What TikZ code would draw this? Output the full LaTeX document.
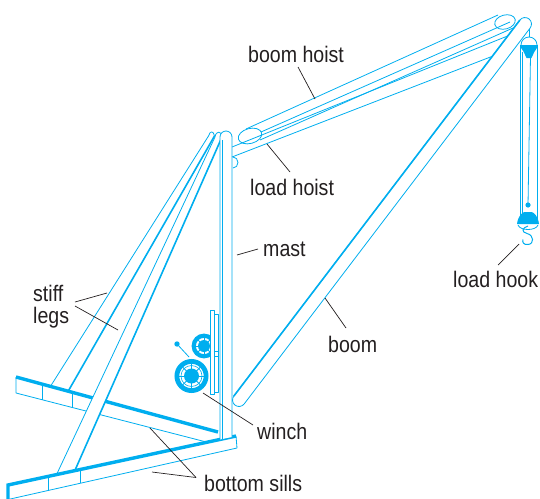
\documentclass[tikz,border=0pt]{standalone}
\usepackage{fontspec}
\setmainfont[FakeStretch=0.87]{Liberation Sans}
\definecolor{crane}{RGB}{0,174,239}
\definecolor{ink}{RGB}{35,31,32}

\begin{document}
\begin{tikzpicture}[x=1pt,y=-1pt,
  part/.style={draw=crane,line width=0.8pt,line join=round},
  heavy/.style={draw=crane,line width=1.6pt},
  silledge/.style={draw=crane,line width=3.4pt},
  leader/.style={draw=ink,line width=0.7pt},
  lbl/.style={text=ink,font=\fontsize{22.5}{22.5}\selectfont,inner sep=0pt,anchor=base west}]
\useasboundingbox (0,0) rectangle (540,498);

% ---------- boom hoist: sheaves and cables ----------
\draw[part,fill=white] (250,136) ellipse[x radius=12,y radius=7.5,rotate=15];
\draw[part,fill=white] (505,22) ellipse[x radius=10.5,y radius=7,rotate=15];
\coordinate (hoistA1) at (246,129);  \coordinate (hoistA2) at (498,15);
\coordinate (hoistB1) at (261,132);  \coordinate (hoistB2) at (510,22);
\coordinate (hoistC1) at (260,140);  \coordinate (hoistC2) at (513,28);
\coordinate (hoistD1) at (232,147);  \coordinate (hoistD2) at (515,33);
\draw[part] (hoistA1) -- (hoistA2);
\draw[part] (hoistB1) -- (hoistB2);
\draw[part] (hoistC1) -- (hoistC2);
\draw[part] (hoistD1) -- (hoistD2);

% ---------- rear stiff leg ----------
\fill[white] (45,395) -- (208.5,136) -- (214.5,136) -- (66,395) -- cycle;
\draw[part] (45,395) -- (208.5,136) .. controls (210,130.5) and (213.5,130.5) .. (214.5,136);
\draw[heavy] (214.5,136) -- (66,395);

% ---------- rear bottom sill ----------
\fill[white] (16,377) -- (218,432) -- (218,445) -- (16,393) -- cycle;
\draw[part] (16,377) -- (16,393) -- (218,445);
\draw[part] (42,384.1) -- (42,399.7);
\draw[part] (72,392.2) -- (72,407.4);
\draw[silledge] (16,377) -- (218,432);

% ---------- front stiff leg ----------
\fill[white] (54,480) -- (215,137) .. controls (216,130.5) and (221.5,130.5) .. (222,137) -- (70.7,480) -- cycle;
\draw[part] (54,480) -- (215,137) .. controls (216,130.5) and (221.5,130.5) .. (222,137);
\draw[heavy] (222,137) -- (70.7,480);

% ---------- front bottom sill ----------
\fill[white] (8,485) -- (236,436) -- (237,448) -- (8,500) -- cycle;
\draw[part] (236,436) -- (237,448) -- (8,499.5);
\draw[part] (48,476.4) -- (48,490.1);
\draw[part] (80,469.4) -- (80,483.0);
\draw[silledge] (8,500) -- (8,485) -- (236,436);

% ---------- mast ----------
\filldraw[part,fill=white,rounded corners=6] (220,439.5) -- (220,131) -- (232,131) -- (232,437);
\draw[part] (222,140) -- (222,439);
\draw[part] (233,157) arc[start angle=-90,end angle=90,x radius=5,y radius=5.5];
\coordinate (loadLine1) at (232,157);
\coordinate (loadLine2) at (493,56);
\draw[part] (loadLine1) -- (loadLine2);

% ---------- winch ----------
\draw[part] (177,344) -- (189,357);
\fill[crane] (177,344) circle (2.7);
\draw[crane,line width=4.2pt,fill=white] (204,346) circle (10.3);
\foreach \a in {0,45,...,315} \draw[crane,line width=0.9pt] (204,346) -- ++(\a:8.5);
\fill[crane] (204,346) circle (6);
\draw[part,fill=white] (210,310) rectangle (214.5,394);
\draw[part,fill=white] (214.5,314) rectangle (218.5,392);
\draw[part] (214.5,351.5) -- (218.5,351.5);
\draw[part] (214.5,356.5) -- (218.5,356.5);
\draw[crane,line width=4.8pt,fill=white] (191.5,376) circle (14.6);
\foreach \a in {0,45,...,315} \draw[crane,line width=1pt] (191.5,376) -- ++(\a:12.5);
\draw[crane,line width=0.6pt] (191.5,376) circle (10.5);
\fill[crane] (191.5,376) circle (7.5);

% ---------- boom ----------
\begin{scope}[shift={(239,400)},rotate=52.74]
  \filldraw[part,fill=white,rounded corners=6.5] (-6.5,-6.5) rectangle (478.9,6.5);
  \draw[heavy] (0,-6.5) -- (472.4,-6.5);
\end{scope}

% ---------- load block and hook ----------
\draw[part] (529,29) -- (529,37);
\draw[part] (529,45) circle (8);
\fill[crane] (520.5,45) -- (537.5,45) -- (531.5,58) -- (526.5,58) -- cycle;
\draw[part] (520.5,45) -- (520.5,220);
\draw[part] (537.5,45) -- (537.5,220);
\draw[part] (522.8,52) -- (522.8,218);
\draw[part] (530.5,56) -- (528,205);
\fill[crane] (528,205) circle (2.6);
\fill[crane] (517,224) .. controls (518,216) and (522,212.5) .. (524.5,212) -- (531.5,212) .. controls (534,212.5) and (538,216) .. (539,224) -- cycle;
\draw[part] (518,225) .. controls (520,231) and (536,231) .. (538,225);
\draw[crane,line width=1pt] (528,226) .. controls (522,228) and (521,232) .. (527,233.5)
  .. controls (534,235) and (534.5,244) .. (528,244.5) .. controls (523.5,245) and (522,242) .. (523,239.5);

% ---------- labels ----------
\node[lbl] (tBoomHoist) at (248,62) {boom hoist};
\node[lbl] (tLoadHoist) at (250,195) {load hoist};
\node[lbl] (tMast) at (263,256) {mast};
\node[lbl] (tStiff) at (33,301) {stiff};
\node[lbl] (tLegs) at (33,323.5) {legs};
\node[lbl] (tBoom) at (328,352) {boom};
\node[lbl] (tWinch) at (257,439) {winch};
\node[lbl] (tSills) at (204,491) {bottom sills};
\node[lbl] (tHook) at (453,287) {load hook};

% ---------- leaders ----------
\coordinate (pBoomHoist) at (315,99);   \coordinate (qBoomHoist) at (298,67);
\coordinate (pLoadHoist) at (267,144);  \coordinate (qLoadHoist) at (290,172);
\coordinate (pMast) at (237,255);       \coordinate (qMast) at (258,249);
\coordinate (pLegA) at (107,293);       \coordinate (qLegA) at (75,302);
\coordinate (pLegB) at (118,330);       \coordinate (qLegB) at (75,306);
\coordinate (pBoom) at (325,298);       \coordinate (qBoom) at (346,328);
\coordinate (pWinch) at (203,393);      \coordinate (qWinch) at (253,425);
\coordinate (pSillA) at (150,428);      \coordinate (pSillB) at (152,472);
\coordinate (qSills) at (196,477.5);
\coordinate (pHook) at (519,244);       \coordinate (qHook) at (498,265);
\draw[leader] (qBoomHoist) -- (pBoomHoist);
\draw[leader] (qLoadHoist) -- (pLoadHoist);
\draw[leader] (qMast) -- (pMast);
\draw[leader] (qLegA) -- (pLegA);
\draw[leader] (qLegB) -- (pLegB);
\draw[leader] (pBoom) -- (qBoom);
\draw[leader] (pWinch) -- (qWinch);
\draw[leader] (pSillA) -- (qSills);
\draw[leader] (pSillB) -- (qSills);
\draw[leader] (qHook) -- (pHook);
\end{tikzpicture}
\end{document}
